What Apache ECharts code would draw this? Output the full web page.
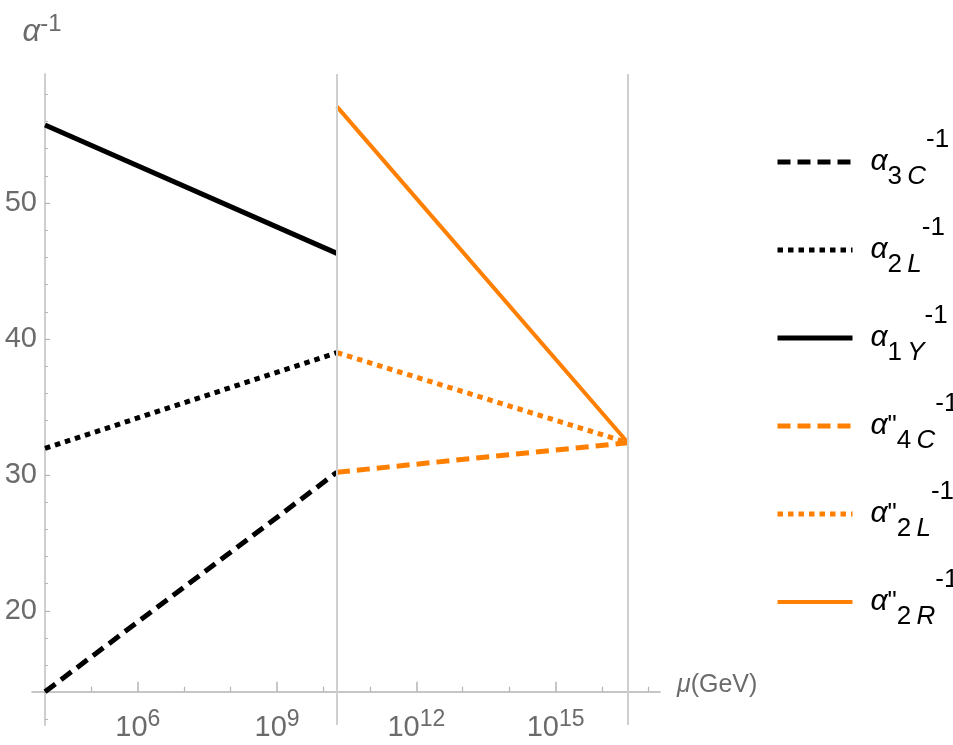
<!DOCTYPE html>
<html>
<head>
<meta charset="utf-8">
<script src="https://cdn.jsdelivr.net/npm/echarts@6/dist/echarts.min.js"></script>
<style>
  html, body { margin: 0; padding: 0; background: #ffffff; }
  #chart { width: 953px; height: 745px; }
</style>
</head>
<body>
<div id="chart"></div>
<script>
// Running of the inverse gauge couplings against log10(mu / GeV)
const logMuLow  = [4, 10.29];    // below the intermediate breaking scale
const logMuHigh = [10.29, 16.56]; // up to unification

const alpha3C   = [14.05, 30.2];
const alpha2L   = [31.95, 39.0];
const alpha1Y   = [55.75, 46.3];
const alpha4Cpp = [30.2, 32.37];
const alpha2Lpp = [39.0, 32.37];
const alpha2Rpp = [57.1, 32.37];

// threshold scales marked by vertical lines
const thresholds = [10.29, 16.56];

// axis ticks
const xMajorTicks = [6, 9, 12, 15];
const xMinorTicks = [4, 5, 7, 8, 10, 11, 13, 14, 16, 17];
const yMajorTicks = [20, 30, 40, 50];
const yMinorTicks = [12, 14, 16, 18, 22, 24, 26, 28, 32, 34, 36, 38, 42, 44, 46, 48, 52, 54, 56, 58];

const X_MIN = 3.72, X_MAX = 17.25;
const Y_MIN = 11.6, Y_MAX = 59.5;
const X_ORIGIN = 4;      // where the vertical axis sits
const Y_ORIGIN = 14.05;  // where the horizontal axis sits

const GRID = { left: 32, right: 293, top: 74, bottom: 20 };
const W = 953, H = 745;
const plotW = W - GRID.left - GRID.right;
const plotH = H - GRID.top - GRID.bottom;
const xAxisShift = -(Y_ORIGIN - Y_MIN) * plotH / (Y_MAX - Y_MIN);
const yAxisShift = -(X_ORIGIN - X_MIN) * plotW / (X_MAX - X_MIN);

const FONT = '"Liberation Sans", Arial, sans-serif';
const GREY_TEXT = '#6b6b6b';
const AXIS_GREY = '#b4b4b4';
const ORANGE = '#ff8000';

function pairs(xs, ys) {
  return xs.map((x, i) => [x, ys[i]]);
}

const DASH = [13, 7];
const DOT = [5.5, 5];

const seriesDefs = [
  { name: 'a3C',   xs: logMuLow,  ys: alpha3C,   color: '#000', width: 5, type: DASH },
  { name: 'a2L',   xs: logMuLow,  ys: alpha2L,   color: '#000', width: 5, type: DOT },
  { name: 'a1Y',   xs: logMuLow,  ys: alpha1Y,   color: '#000', width: 5, type: 'solid' },
  { name: 'a4Cpp', xs: logMuHigh, ys: alpha4Cpp, color: ORANGE, width: 5, type: DASH },
  { name: 'a2Lpp', xs: logMuHigh, ys: alpha2Lpp, color: ORANGE, width: 5, type: DOT },
  { name: 'a2Rpp', xs: logMuHigh, ys: alpha2Rpp, color: ORANGE, width: 4, type: 'solid' }
];

// thin space between the index digit and the index letter
const TS = '\u2009';
const legendText = {
  a3C:   '{a|α}{sub|3}{subi|' + TS + 'C}{sup|-1}',
  a2L:   '{a|α}{sub|2}{subi|' + TS + 'L}{sup|-1}',
  a1Y:   '{a|α}{sub|1}{subi|' + TS + 'Y}{sup|-1}',
  a4Cpp: '{a|α}{q|"}{sub|4}{subi|' + TS + 'C}{sup|-1}',
  a2Lpp: '{a|α}{q|"}{sub|2}{subi|' + TS + 'L}{sup|-1}',
  a2Rpp: '{a|α}{q|"}{sub|2}{subi|' + TS + 'R}{sup|-1}'
};

const series = seriesDefs.map(d => ({
  name: d.name,
  type: 'line',
  xAxisIndex: 0,
  yAxisIndex: 0,
  data: pairs(d.xs, d.ys),
  symbol: 'none',
  showSymbol: false,
  silent: true,
  z: 3,
  lineStyle: { color: d.color, width: d.width, type: d.type, cap: 'butt' },
  itemStyle: { color: d.color }
}));

// vertical threshold lines
series.push({
  name: 'thresholds',
  type: 'line',
  data: [],
  z: 1,
  silent: true,
  markLine: {
    silent: true,
    symbol: 'none',
    label: { show: false },
    lineStyle: { color: '#cfcfcf', width: 2, type: 'solid' },
    emphasis: { disabled: true },
    data: thresholds.map(t => ({ xAxis: t }))
  }
});

function tx(extra) {
  return Object.assign({ fontFamily: FONT }, extra);
}

const LEG = 26; // legend index font size

const option = {
  animation: false,
  backgroundColor: '#ffffff',
  grid: GRID,
  legend: {
    orient: 'vertical',
    left: 775,
    top: 127,
    padding: 0,
    itemWidth: 75,
    itemHeight: 14,
    itemGap: 18,
    selectedMode: false,
    data: seriesDefs.map(d => d.name),
    lineStyle: { width: 'inherit' },
    itemStyle: { opacity: 0, borderWidth: 0 },
    formatter: name => legendText[name],
    textStyle: {
      color: '#000',
      padding: [0, 0, 0, 13],
      rich: {
        a:    tx({ fontStyle: 'italic', fontSize: 30, lineHeight: 70, verticalAlign: 'middle', color: '#000' }),
        q:    tx({ fontSize: LEG, lineHeight: 70, verticalAlign: 'middle', color: '#000' }),
        sub:  tx({ fontSize: LEG, lineHeight: 50, verticalAlign: 'bottom', padding: [0, 0, 7, 0], color: '#000' }),
        subi: tx({ fontStyle: 'italic', fontSize: LEG, lineHeight: 50, verticalAlign: 'bottom', padding: [0, 0, 7, 0], color: '#000' }),
        sup:  tx({ fontSize: LEG, lineHeight: 30, verticalAlign: 'top', color: '#000' })
      }
    }
  },
  xAxis: [
    {
      type: 'value',
      position: 'bottom',
      min: X_MIN,
      max: X_MAX,
      offset: xAxisShift,
      name: '{m|μ}{n|(GeV)}',
      nameLocation: 'end',
      nameGap: 17,
      nameTextStyle: {
        padding: [0, 0, 14, 0],
        rich: {
          m: tx({ fontStyle: 'italic', fontSize: 25, color: GREY_TEXT }),
          n: tx({ fontSize: 25, color: GREY_TEXT })
        }
      },
      axisLine: { show: true, onZero: false, lineStyle: { color: AXIS_GREY, width: 1.5 } },
      axisTick: { show: true, inside: true, length: 10, customValues: xMajorTicks, lineStyle: { color: AXIS_GREY, width: 1.5 } },
      axisLabel: {
        show: true,
        customValues: xMajorTicks,
        margin: 16,
        formatter: v => '{b|10}{s|' + v + '}',
        rich: {
          b: tx({ fontSize: 29, lineHeight: 40, verticalAlign: 'middle', color: GREY_TEXT }),
          s: tx({ fontSize: 23, lineHeight: 20, verticalAlign: 'top', color: GREY_TEXT })
        }
      },
      splitLine: { show: false },
      minorTick: { show: false }
    },
    {
      type: 'value',
      position: 'bottom',
      min: X_MIN,
      max: X_MAX,
      offset: xAxisShift,
      axisLine: { show: false, onZero: false },
      axisTick: { show: true, inside: true, length: 5, customValues: xMinorTicks, lineStyle: { color: AXIS_GREY, width: 1.2 } },
      axisLabel: { show: false },
      splitLine: { show: false }
    }
  ],
  yAxis: [
    {
      type: 'value',
      position: 'left',
      min: Y_MIN,
      max: Y_MAX,
      offset: yAxisShift,
      name: '{a|α}{s|-1}',
      nameLocation: 'end',
      nameGap: 22,
      nameTextStyle: {
        align: 'center',
        verticalAlign: 'bottom',
        padding: [0, 6, 0, 0],
        rich: {
          a: tx({ fontStyle: 'italic', fontSize: 31, lineHeight: 40, verticalAlign: 'middle', color: GREY_TEXT }),
          s: tx({ fontSize: 24, lineHeight: 14, verticalAlign: 'top', color: GREY_TEXT })
        }
      },
      axisLine: { show: true, onZero: false, lineStyle: { color: '#cfcfcf', width: 2 } },
      axisTick: { show: true, inside: true, length: 5, customValues: yMajorTicks, lineStyle: { color: AXIS_GREY, width: 1.2 } },
      axisLabel: tx({
        show: true,
        customValues: yMajorTicks,
        margin: 8,
        fontSize: 29,
        color: GREY_TEXT
      }),
      splitLine: { show: false }
    },
    {
      type: 'value',
      position: 'left',
      min: Y_MIN,
      max: Y_MAX,
      offset: yAxisShift,
      axisLine: { show: false, onZero: false },
      axisTick: { show: true, inside: true, length: 3, customValues: yMinorTicks, lineStyle: { color: AXIS_GREY, width: 1 } },
      axisLabel: { show: false },
      splitLine: { show: false }
    }
  ],
  series: series
};

const chart = echarts.init(document.getElementById('chart'), null, { renderer: 'canvas' });
chart.setOption(option);
</script>
</body>
</html>
